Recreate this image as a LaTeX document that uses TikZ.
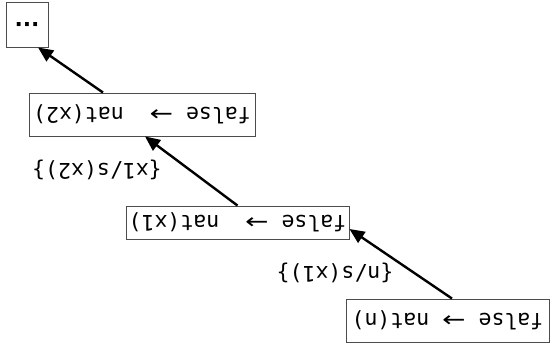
\documentclass[tikz,border=0pt]{standalone}
\usepackage{fontspec}
\setmonofont{DejaVu Sans Mono}
\newfontfamily\arrowfont{DejaVu Sans}
\usetikzlibrary{arrows.meta,calc}
\newcommand{\turntxt}[1]{\rotatebox[origin=c]{180}{#1}}
\newcommand{\arr}{\scalebox{1.3}[1]{\arrowfont →}}
\tikzset{
  termbox/.style={draw=black!70, line width=0.9pt, inner sep=0pt, font=\ttfamily\fontsize{21.5}{24}\selectfont},
  redarrow/.style={line width=2.4pt, -{Triangle[length=15pt,width=13pt]}},
  subst/.style={inner sep=0pt, font=\ttfamily\fontsize{21.5}{24}\selectfont}
}
\begin{document}
\begin{tikzpicture}[x=1pt,y=-1pt]
\useasboundingbox (0,0) rectangle (554,350);
\node[termbox, minimum width=42pt, minimum height=45pt] (dots) at (27,24.5) {\turntxt{\arrowfont\bfseries ...}};
\node[termbox, minimum width=226pt, minimum height=43pt] (x2) at (142,114.5) {\turntxt{false \arr\ \ nat(x2)}};
\node[termbox, minimum width=223pt, minimum height=33pt] (x1) at (237.5,222.5) {\turntxt{false \arr\ \ nat(x1)}};
\node[termbox, minimum width=203pt, minimum height=43pt] (u) at (447.5,320.5) {\turntxt{false \arr\ nat(n)}};
\node[subst] (s1) at (335,273) {\turntxt{\{n/s(x1)\}}};
\node[subst] (s2) at (97,170) {\turntxt{\{x1/s(x2)\}}};
\draw[redarrow] ([xshift=4.5pt]u.north) -- ([yshift=-6.5pt]x1.east);
\draw[redarrow] (x1.north) -- ([xshift=3pt]x2.south);
\draw[redarrow] ([xshift=-39pt]x2.north) -- ([xshift=11pt]dots.south);
\end{tikzpicture}
\end{document}
